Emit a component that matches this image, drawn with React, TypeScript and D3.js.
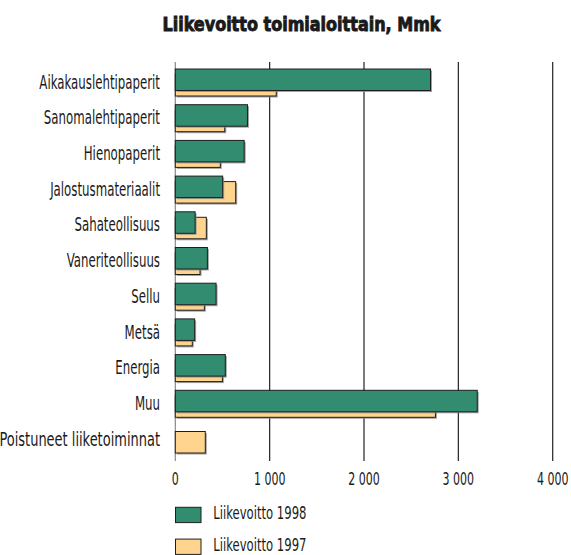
import React from "react";
import * as d3 from "d3";

const categories = [
  "Aikakauslehtipaperit",
  "Sanomalehtipaperit",
  "Hienopaperit",
  "Jalostusmateriaalit",
  "Sahateollisuus",
  "Vaneriteollisuus",
  "Sellu",
  "Metsä",
  "Energia",
  "Muu",
  "Poistuneet liiketoiminnat",
];
const values1998: (number | null)[] = [2705, 765, 730, 502, 210, 340, 432, 205, 530, 3200, null];
const values1997: (number | null)[] = [1070, 524, 477, 640, 329, 262, 308, 180, 499, 2757, 318];
const tickValues = [0, 1000, 2000, 3000, 4000];
const tickLabels = ["0", "1 000", "2 000", "3 000", "4 000"];
const seriesNames = ["Liikevoitto 1998", "Liikevoitto 1997"];
const title = "Liikevoitto toimialoittain, Mmk";

const GREEN = "#318c70";
const ORANGE = "#ffd48e";
const STROKE = "#1e1e1e";
const SHADOW = "#8a8a8a";
const FONT = "'DejaVu Sans Condensed', sans-serif";

export default function App() {
  const W = 571, H = 555;
  const x = d3.scaleLinear().domain([0, 4000]).range([175.3, 552.7]);
  const y = d3.scaleBand<string>().domain(categories).range([64.3, 457]).paddingInner(0).paddingOuter(0);
  const step = y.bandwidth();
  const pad = 4.7;
  const barH = 21.5;
  const offset = 5.5;

  const Bar = ({ v, yy, fill }: { v: number; yy: number; fill: string }) => {
    const x0 = x(0);
    const w = x(v) - x0;
    return (
      <g>
        <rect x={x0 + 1.5} y={yy + 1.5} width={w} height={barH} fill={SHADOW} opacity={0.8} />
        <rect x={x0} y={yy} width={w} height={barH} fill={fill} stroke={STROKE} strokeWidth={1} />
      </g>
    );
  };

  const Txt = ({ tx, ty, anchor, size, sx, children }: any) => (
    <g transform={`translate(${tx},${ty}) scale(${sx},1)`}>
      <text x={0} y={0} textAnchor={anchor} fontFamily={FONT} fontSize={size} fill="#1a1a1a">
        {children}
      </text>
    </g>
  );

  return (
    <svg width={W} height={H} style={{ position: "absolute", left: 0, top: 0, background: "#fff" }}>
      <text
        x={301.5}
        y={31}
        textAnchor="middle"
        fontFamily="'DejaVu Sans Condensed', 'DejaVu Sans', sans-serif"
        fontWeight="bold"
        fontSize={20}
        textLength={278}
        lengthAdjust="spacingAndGlyphs"
        fill="#1a1a1a"
        stroke="#1a1a1a"
        strokeWidth={0.9}
      >
        {title}
      </text>

      {/* gridlines */}
      {tickValues.map((t, i) => (
        <line
          key={"g" + i}
          x1={x(t)}
          x2={x(t)}
          y1={62}
          y2={461}
          stroke={i === 0 ? "#888" : "#222"}
          strokeWidth={1.2}
        />
      ))}

      {/* bars */}
      {categories.map((c, i) => {
        const y0 = (y(c) as number) + pad;
        const v98 = values1998[i];
        const v97 = values1997[i];
        return (
          <g key={c}>
            {v97 != null && <Bar v={v97} yy={y0 + offset} fill={ORANGE} />}
            {v98 != null && <Bar v={v98} yy={y0} fill={GREEN} />}
          </g>
        );
      })}

      {/* category labels */}
      {categories.map((c) => (
        <Txt key={"l" + c} tx={160} ty={(y(c) as number) + step / 2 + 6.5} anchor="end" size={19} sx={c.length > 22 ? 0.76 : 0.69}>
          {c}
        </Txt>
      ))}

      {/* tick labels */}
      {tickValues.map((t, i) => (
        <Txt key={"t" + i} tx={x(t)} ty={484.5} anchor="middle" size={18} sx={0.68}>
          {tickLabels[i]}
        </Txt>
      ))}

      {/* legend */}
      {seriesNames.map((s, i) => {
        const ly = 507.3 + i * 31.8;
        return (
          <g key={s}>
            <rect x={175.5} y={ly} width={25.5} height={15.3} fill={i === 0 ? GREEN : ORANGE} stroke={STROKE} strokeWidth={1} />
            <Txt tx={213.3} ty={ly + 11.5} anchor="start" size={17.5} sx={0.74}>
              {s}
            </Txt>
          </g>
        );
      })}
    </svg>
  );
}
